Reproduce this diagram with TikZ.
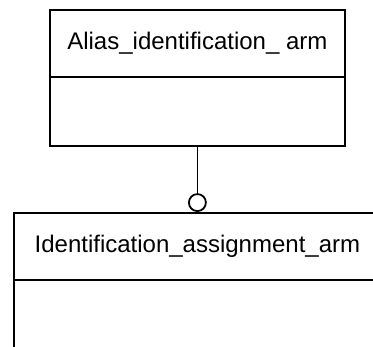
\documentclass[tikz,border=0pt]{standalone}
\usepackage{fontspec}
\setmainfont{Liberation Sans}
\begin{document}
\begin{tikzpicture}[x=1pt,y=1pt, line width=1.8pt,
  classbox/.style={draw, rectangle, inner sep=0pt},
  classtitle/.style={font=\fontsize{24}{28}\selectfont, inner sep=0pt},
  ringend/.style={draw, circle, minimum size=17pt, inner sep=0pt, fill=white}]
\useasboundingbox (0,0) rectangle (373,347);
\clip (0,0) rectangle (373,347);
% top class
\node[classbox, minimum width=295pt, minimum height=136pt, anchor=north west] (alias) at (49,338) {};
\draw ([yshift=-68pt]alias.north west) -- ([yshift=-68pt]alias.north east);
\node[classtitle] (aliasname) at ([yshift=-34pt]alias.north) {Alias\_identification\_ arm};
% bottom class
\node[classbox, minimum width=367pt, minimum height=160pt, anchor=north west] (ident) at (13,135) {};
\draw ([yshift=-68pt]ident.north west) -- ([yshift=-68pt]ident.north east);
\node[classtitle] (identname) at ([yshift=-34pt]ident.north) {Identification\_assignment\_arm};
% connector
\node[ringend, anchor=south] (ring) at (ident.north) {};
\draw (alias.south) -- (ring.north);
\end{tikzpicture}
\end{document}
